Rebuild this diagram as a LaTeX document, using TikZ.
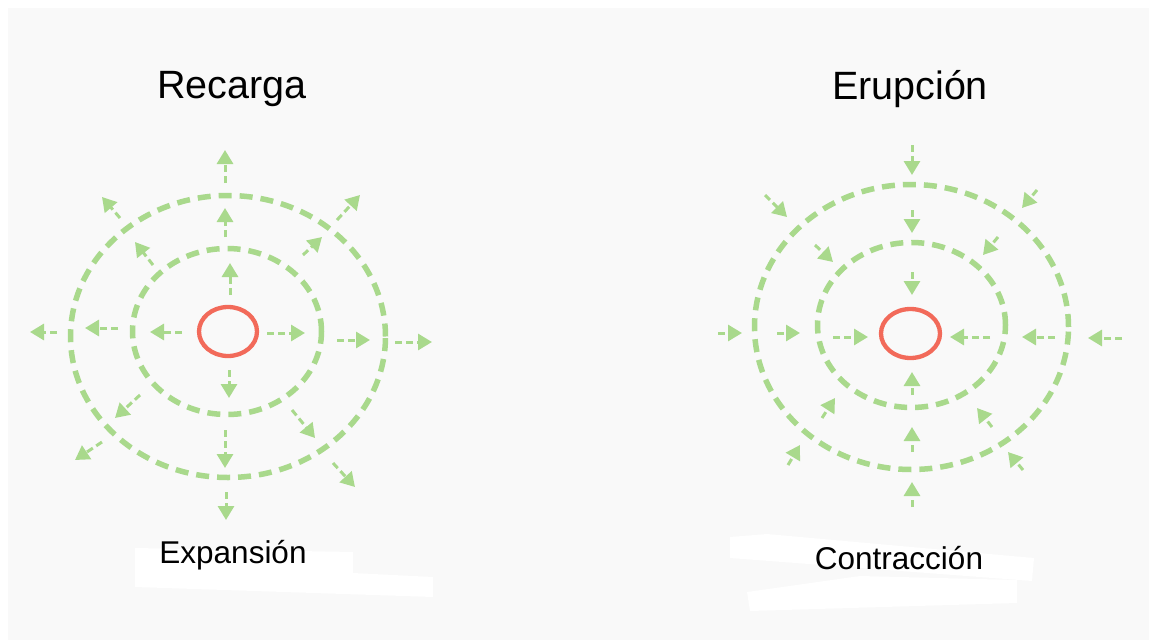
\documentclass[tikz,border=0pt]{standalone}
\usepackage{fontspec}
\setmainfont{Liberation Sans}
\usetikzlibrary{arrows.meta,shapes.geometric}
\definecolor{bggray}{HTML}{F9F9F9}
\definecolor{lgreen}{HTML}{A9D98C}
\definecolor{coral}{HTML}{F26A5A}
\begin{document}
\begin{tikzpicture}[x=1pt,y=-1pt,
  ring/.style={ellipse, draw=lgreen, line width=5.5pt, dash pattern=on 13pt off 8pt, inner sep=0pt, outer sep=0pt},
  core/.style={ellipse, draw=coral, line width=4.3pt, inner sep=0pt, outer sep=0pt},
  flow/.style={draw=lgreen, line width=3pt, dash pattern=on 7pt off 4pt, -{Triangle[length=14pt,width=16pt]}},
  title/.style={font=\fontsize{39.5}{44}\selectfont, text=black, inner sep=0pt},
  caption/.style={font=\fontsize{31.5}{36}\selectfont, text=black, inner sep=0pt},
  strip/.style={fill=white, draw=none}
]
\useasboundingbox (0,0) rectangle (1149,640);
\fill[white] (0,0) rectangle (1149,640);
\fill[bggray] (8,8) rectangle (1149,640);

% white strips behind captions
\fill[strip] (135,548) -- (353,552) -- (353,573) -- (433,577) -- (433,597) -- (135,587) -- cycle;
\fill[strip] (730,537) -- (767,534) -- (1034,558) -- (1032,581) -- (730,558) -- cycle;
\fill[strip] (747,592) -- (860,576) -- (1017,580) -- (1017,603) -- (750,611) -- cycle;

% titles
\node[title] (tRecarga) at (232,89) {Recarga};
\node[title] (tErupcion) at (910,89) {Erupción};

% captions
\node[caption] (cExp) at (233,555) {Expansión};
\node[caption] (cCon) at (899,558) {Contracción};

% left rings
\node[ring, minimum width=315pt, minimum height=282pt] (outerL) at (228,336.5) {};
\node[ring, minimum width=189pt, minimum height=166pt] (innerL) at (227,331.5) {};
\node[core, minimum width=58pt, minimum height=49pt] (coreL) at (228,331.5) {};

% right rings
\node[ring, minimum width=314pt, minimum height=285pt] (outerR) at (911.5,327) {};
\node[ring, minimum width=188pt, minimum height=165pt] (innerR) at (911.5,325) {};
\node[core, minimum width=59pt, minimum height=49pt] (coreR) at (910.5,333.5) {};

% left arrows (expansion)
\foreach \i/\xa/\ya/\xb/\yb in {
  1/225/183/225/150, 2/225/237/225/208, 3/230/295/230/263,
  4/229/370/229/398, 5/225/430/225/468, 6/226/492/226/520,
  7/182/332/150/332, 8/118/328/85/328, 9/57/332/30/332,
  10/267/333/305/333, 11/337/340/370/340, 12/395/342/432/342,
  13/120/218/102/197, 14/153/265/135/242,
  15/337/220/360/195, 16/303/255/322/237,
  17/140/395/115/418, 18/102/442/75/460,
  19/292/410/315/438, 20/333/463/355/487}{
  \coordinate (Ls\i) at (\xa,\ya);
  \coordinate (Le\i) at (\xb,\yb);
  \draw[flow] (Ls\i) -- (Le\i);
}

% right arrows (contraction)
\foreach \i/\xa/\ya/\xb/\yb in {
  1/912/145/912/175, 2/912/210/912/233, 3/912/272/912/295,
  4/912/395/912/372, 5/912/452/912/427, 6/912/507/912/482,
  7/718/333/742/333, 8/777/333/800/333, 9/833/337/868/337,
  10/990/337/950/337, 11/1055/337/1022/337, 12/1122/338/1088/338,
  13/765/195/787/217, 14/815/245/833/262,
  15/1037/190/1022/208, 16/998/237/983/255,
  17/822/418/835/398, 18/788/465/800/445,
  19/992/427/977/408, 20/1023/470/1008/452}{
  \coordinate (Rs\i) at (\xa,\ya);
  \coordinate (Re\i) at (\xb,\yb);
  \draw[flow] (Rs\i) -- (Re\i);
}
\end{tikzpicture}
\end{document}
